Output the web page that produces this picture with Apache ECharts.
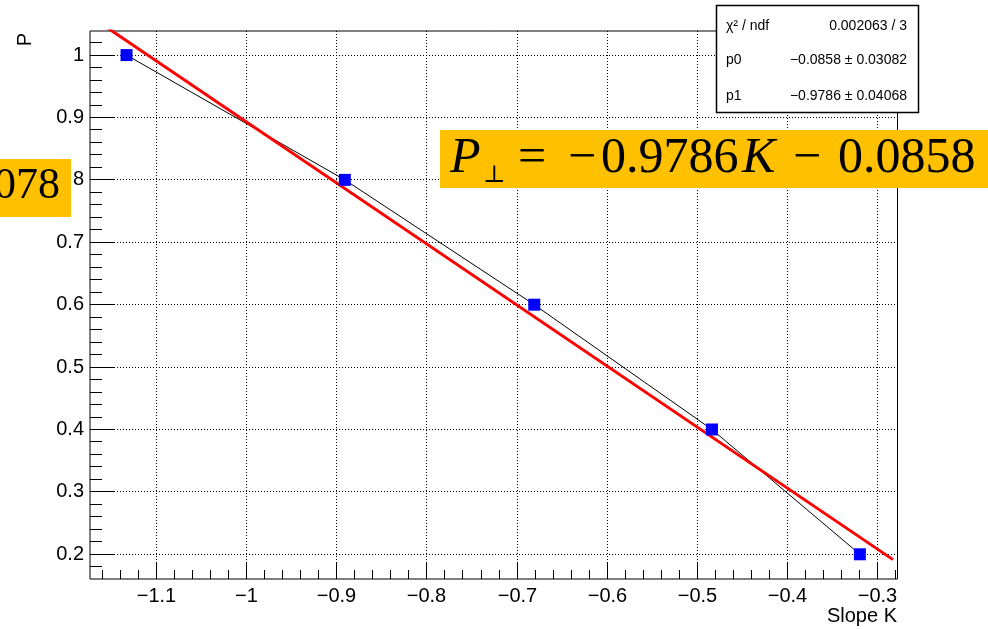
<!DOCTYPE html>
<html>
<head>
<meta charset="utf-8">
<script src="https://cdn.jsdelivr.net/npm/echarts@6/dist/echarts.min.js"></script>
<style>
  html, body { margin: 0; padding: 0; background: #fff; }
  #chart { width: 988px; height: 629px; }
</style>
</head>
<body>
<div id="chart"></div>
<script>
// Measured points: slope K against P
const slopeK = [-1.133, -0.891, -0.681, -0.484, -0.320];
const pValues = [1.0, 0.8, 0.6, 0.4, 0.2];

// Linear fit P = p1 * K + p0
const fitP0 = -0.0858;
const fitP1 = -0.9786;
const fitRange = [-1.1735, -0.2833];

// Fit statistics box rows
const statNames = ['\u03C7\u00B2 / ndf', 'p0', 'p1'];
const statValues = ['0.002063 / 3', '\u22120.0858 \u00B1 0.03082', '\u22120.9786 \u00B1 0.04068'];

// Axis ranges and major ticks
const X_MIN = -1.1735, X_MAX = -0.2783;
const Y_MIN = 0.1604, Y_MAX = 1.0386;
const xMajorTicks = [-1.1, -1.0, -0.9, -0.8, -0.7, -0.6, -0.5, -0.4, -0.3];
const yMajorTicks = [0.2, 0.3, 0.4, 0.5, 0.6, 0.7, 0.8, 0.9, 1.0];

// Minor ticks every 0.02 inside the ranges
const xMinorTicks = [];
for (let i = -58; i <= -14; i++) xMinorTicks.push(+(i * 0.02).toFixed(2));
const yMinorTicks = [];
for (let i = 9; i <= 51; i++) yMinorTicks.push(+(i * 0.02).toFixed(2));

const LABEL_FONT = '20px "Liberation Sans", Arial, sans-serif';
const STAT_FONT = '14px "Liberation Sans", Arial, sans-serif';

function fmt(v) {
  const a = +Math.abs(v).toFixed(2);
  return (v < 0 ? '\u2212' : '') + String(a);
}

const fitData = fitRange.map(k => [k, fitP1 * k + fitP0]);
const pointData = slopeK.map((k, i) => [k, pValues[i]]);

function crisp(v) { return Math.round(v - 0.5) + 0.5; }

// X-axis ticks, dotted grid and labels
function renderXAxis(major) {
  return function (params, api) {
    const cs = params.coordSys;
    const v = api.value(0);
    const x = crisp(api.coord([v, Y_MIN])[0]);
    const bottom = cs.y + cs.height;
    const children = [];
    if (major) {
      children.push({
        type: 'line',
        shape: { x1: x, y1: cs.y, x2: x, y2: bottom },
        style: { stroke: '#000', lineWidth: 1, lineDash: [1, 2] }
      });
    }
    children.push({
      type: 'line',
      shape: { x1: x, y1: bottom, x2: x, y2: bottom - (major ? 17 : 9) },
      style: { stroke: '#000', lineWidth: 1 }
    });
    if (major) {
      children.push({
        type: 'text',
        x: x, y: bottom + 17,
        style: { text: fmt(v), font: LABEL_FONT, fill: '#000', align: 'center', verticalAlign: 'middle' }
      });
    }
    return { type: 'group', children: children };
  };
}

// Y-axis ticks, dotted grid and labels
function renderYAxis(major) {
  return function (params, api) {
    const cs = params.coordSys;
    const v = api.value(1);
    const y = crisp(api.coord([X_MIN, v])[1]);
    const left = cs.x;
    const children = [];
    if (major) {
      children.push({
        type: 'line',
        shape: { x1: left, y1: y, x2: cs.x + cs.width, y2: y },
        style: { stroke: '#000', lineWidth: 1, lineDash: [1, 2] }
      });
    }
    children.push({
      type: 'line',
      shape: { x1: left, y1: y, x2: left + (major ? 24 : 12), y2: y },
      style: { stroke: '#000', lineWidth: 1 }
    });
    if (major) {
      children.push({
        type: 'text',
        x: left - 6, y: y,
        style: { text: fmt(v), font: LABEL_FONT, fill: '#000', align: 'right', verticalAlign: 'middle' }
      });
    }
    return { type: 'group', children: children };
  };
}

const chart = echarts.init(document.getElementById('chart'), null, { renderer: 'canvas' });

const serifFont = (size, italic) =>
  (italic ? 'italic ' : '') + size + 'px "Liberation Serif", "Times New Roman", serif';

chart.setOption({
  animation: false,
  backgroundColor: '#fff',
  grid: {
    left: 90, right: 90.5, top: 31, bottom: 50,
    show: true, borderColor: '#000', borderWidth: 1, backgroundColor: '#fff'
  },
  xAxis: {
    type: 'value', min: X_MIN, max: X_MAX,
    axisLine: { show: false }, axisTick: { show: false },
    axisLabel: { show: false }, splitLine: { show: false }
  },
  yAxis: {
    type: 'value', min: Y_MIN, max: Y_MAX,
    axisLine: { show: false }, axisTick: { show: false },
    axisLabel: { show: false }, splitLine: { show: false }
  },
  series: [
    { type: 'custom', silent: true, clip: false, z: 1,
      data: xMajorTicks.map(v => [v, Y_MIN]), renderItem: renderXAxis(true) },
    { type: 'custom', silent: true, clip: false, z: 1,
      data: xMinorTicks.map(v => [v, Y_MIN]), renderItem: renderXAxis(false) },
    { type: 'custom', silent: true, clip: false, z: 1,
      data: yMajorTicks.map(v => [X_MIN, v]), renderItem: renderYAxis(true) },
    { type: 'custom', silent: true, clip: false, z: 1,
      data: yMinorTicks.map(v => [X_MIN, v]), renderItem: renderYAxis(false) },
    {
      name: 'graph', type: 'line', z: 3, silent: true,
      data: pointData, showSymbol: false,
      lineStyle: { color: '#000', width: 1 }
    },
    {
      name: 'fit', type: 'line', z: 4, silent: true, clip: true,
      data: fitData, showSymbol: false,
      lineStyle: { color: '#ff0000', width: 3 }
    },
    {
      name: 'points', type: 'scatter', z: 5, silent: true,
      data: pointData, symbol: 'rect', symbolSize: 12,
      itemStyle: { color: '#0000ff', opacity: 1 }
    }
  ],
  graphic: [
    // axis titles
    { type: 'text', x: 897, y: 616, z: 100,
      style: { text: 'Slope K', font: LABEL_FONT, fill: '#000', align: 'right', verticalAlign: 'middle' } },
    { type: 'text', x: 25, y: 33, rotation: Math.PI / 2, z: 100,
      style: { text: 'P', font: LABEL_FONT, fill: '#000', align: 'right', verticalAlign: 'middle' } },

    // fit statistics box
    { type: 'rect', z: 100, shape: { x: 716.5, y: 5.5, width: 202, height: 107 },
      style: { fill: '#fff', stroke: '#000', lineWidth: 1.5 } },
    ...statNames.map((t, i) => ({
      type: 'text', x: 726, y: [26, 60, 96][i], z: 101,
      style: { text: t, font: STAT_FONT, fill: '#000', align: 'left', verticalAlign: 'middle' }
    })),
    ...statValues.map((t, i) => ({
      type: 'text', x: 907, y: [26, 60, 96][i], z: 101,
      style: { text: t, font: STAT_FONT, fill: '#000', align: 'right', verticalAlign: 'middle' }
    })),

    // highlighted equation
    { type: 'rect', z: 110, shape: { x: 440, y: 130, width: 548, height: 58 }, style: { fill: '#ffc000' } },
    { type: 'text', x: 450, y: 158.5, z: 111,
      style: { text: 'P', font: serifFont(50, true), fill: '#000', verticalAlign: 'middle' } },
    { type: 'text', x: 483, y: 175.5, z: 111,
      style: { text: '\u22A5', font: '24px "DejaVu Serif", serif', fill: '#000', verticalAlign: 'middle' } },
    { type: 'text', x: 518, y: 158.5, z: 111,
      style: { text: '=', font: serifFont(50), fill: '#000', verticalAlign: 'middle' } },
    { type: 'text', x: 568, y: 158.5, z: 111,
      style: { text: '\u2212', font: serifFont(50), fill: '#000', verticalAlign: 'middle' } },
    { type: 'text', x: 601, y: 158.5, z: 111,
      style: { text: '0.9786', font: serifFont(50), fill: '#000', verticalAlign: 'middle' } },
    { type: 'text', x: 742, y: 158.5, z: 111,
      style: { text: 'K', font: serifFont(50, true), fill: '#000', verticalAlign: 'middle' } },
    { type: 'text', x: 793, y: 158.5, z: 111,
      style: { text: '\u2212', font: serifFont(50), fill: '#000', verticalAlign: 'middle' } },
    { type: 'text', x: 838, y: 158.5, z: 111,
      style: { text: '0.0858', font: serifFont(50), fill: '#000', verticalAlign: 'middle' } },

    // second highlighted value, cut by the left edge
    { type: 'rect', z: 110, shape: { x: 0, y: 159, width: 71, height: 58 }, style: { fill: '#ffc000' } },
    { type: 'text', x: 60, y: 186, z: 111,
      style: { text: '078', font: serifFont(44), fill: '#000', align: 'right', verticalAlign: 'middle' } }
  ]
});
</script>
</body>
</html>
